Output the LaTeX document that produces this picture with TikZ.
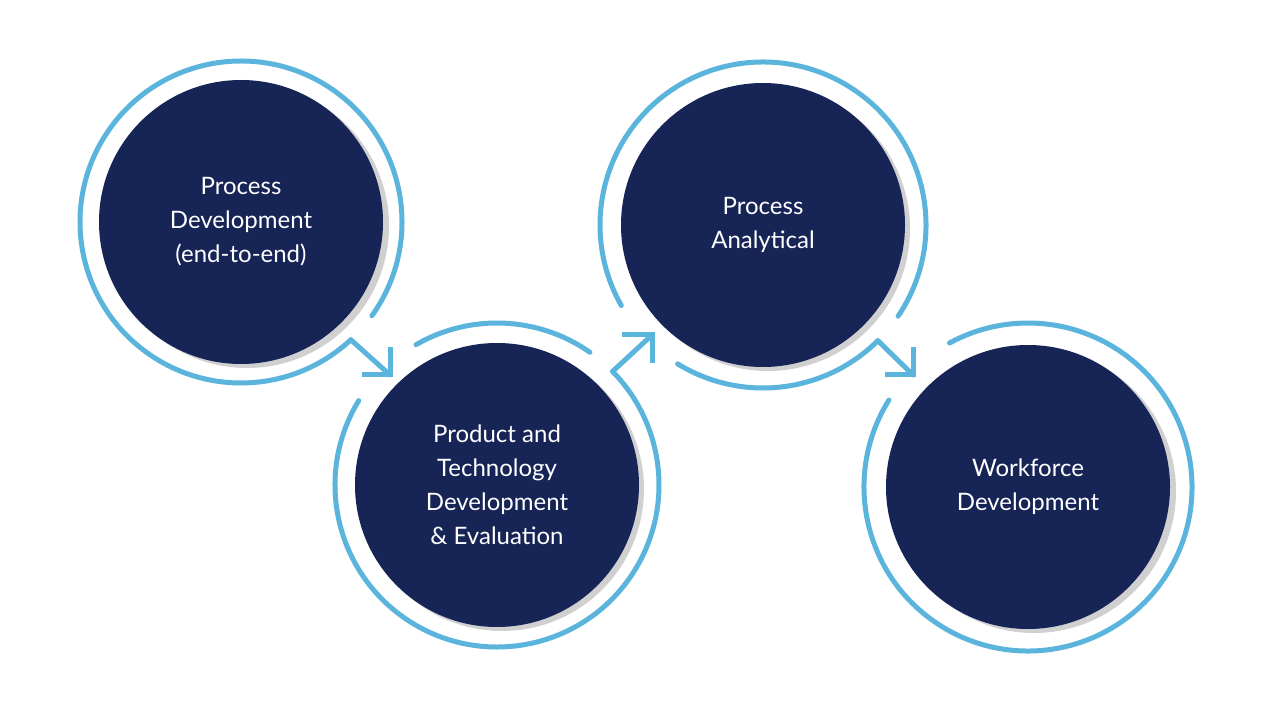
\documentclass[tikz,border=0pt]{standalone}
\usepackage{fontspec}
\setmainfont{Lato}
\definecolor{navy}{HTML}{162456}
\definecolor{ring}{HTML}{5AB4DC}
\begin{document}
\begin{tikzpicture}[x=1pt,y=1pt,
  disc/.style={circle,fill=navy,minimum size=284pt,inner sep=0pt,text=white,align=center,
    font=\fontsize{24}{34}\selectfont},
  shade/.style={circle,fill=black!30,minimum size=284pt,inner sep=0pt,opacity=0.6},
  ringline/.style={draw=ring,line width=5pt,line cap=round},
  headline/.style={draw=ring,line width=5pt,line cap=butt,line join=miter}]
\useasboundingbox (0,0) rectangle (1280,710);
\fill[white] (0,0) rectangle (1280,710);
% shadows
\node[shade] at (247,484) {};
\node[shade] at (502,221) {};
\node[shade] at (768,481) {};
\node[shade] at (1034,219) {};
% discs
\node[disc] (c1) at (241,488) {Process\\Development\\(end-to-end)};
\node[disc] (c2) at (497,225) {Product and\\Technology\\Development\\\& Evaluation};
\node[disc] (c3) at (763,485) {Process\\Analytical};
\node[disc] (c4) at (1028,223) {Workforce\\Development};
% rings
\draw[ringline] (c1.center) ++(-35.6:161) arc[start angle=-35.6,end angle=313,radius=161] coordinate (a1s);
\draw[ringline] (c2.center) ++(55:162) arc[start angle=55,end angle=120,radius=162];
\draw[ringline] (c2.center) ++(148.6:162) arc[start angle=148.6,end angle=404.5,radius=162] coordinate (a2s);
\draw[ringline] (c3.center) ++(-34:163) arc[start angle=-34,end angle=209.6,radius=163];
\draw[ringline] (c3.center) ++(238.4:163) arc[start angle=238.4,end angle=314.8,radius=163] coordinate (a3s);
\draw[ringline] (c4.center) ++(148:164) arc[start angle=148,end angle=478.6,radius=164];
% arrows
\coordinate (t1) at (390,335);
\coordinate (t2) at (652,375);
\coordinate (t3) at (913,335);
\draw[ringline] (a1s) -- (t1);
\draw[headline] (390,363) -- (t1) -- (362,335);
\draw[ringline] (a2s) -- (t2);
\draw[headline] (622,375) -- (t2) -- (652,347);
\draw[ringline] (a3s) -- (t3);
\draw[headline] (913,363) -- (t3) -- (885,335);
\end{tikzpicture}
\end{document}
